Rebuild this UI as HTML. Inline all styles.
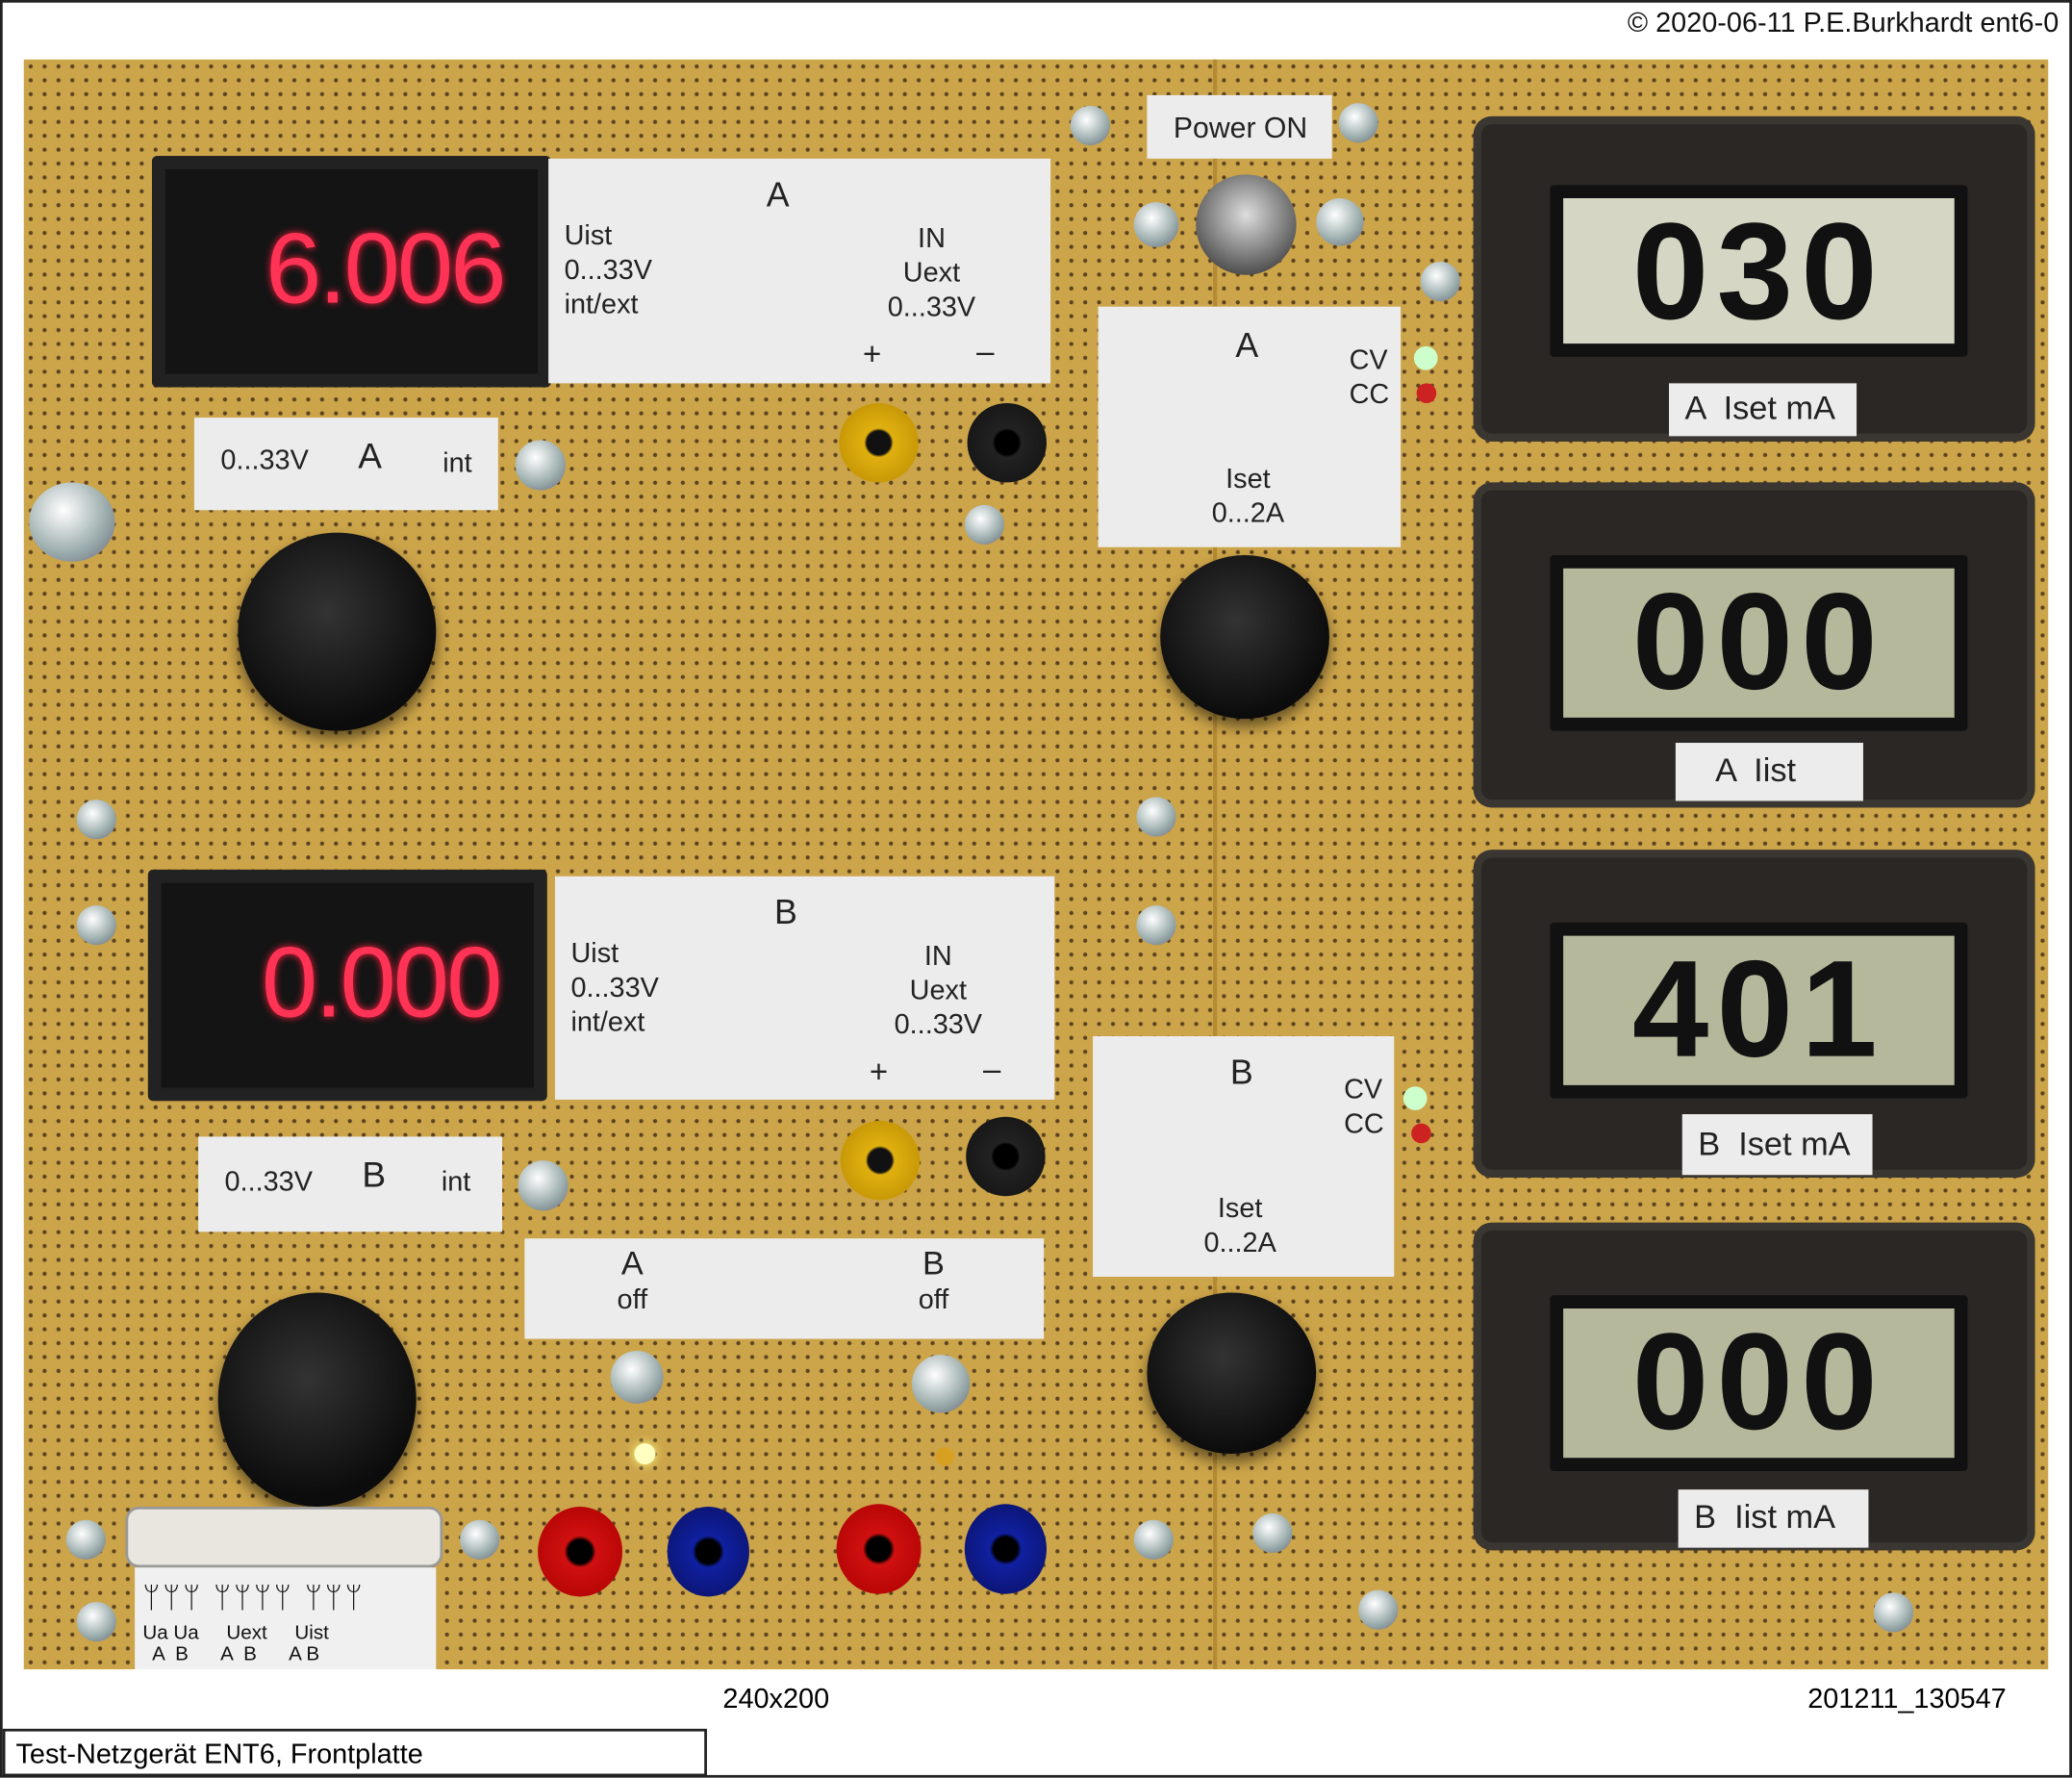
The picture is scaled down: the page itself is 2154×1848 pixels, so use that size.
<!DOCTYPE html>
<html><head><meta charset="utf-8"><style>
html,body{margin:0;padding:0;background:#fff;width:2154px;height:1847px;overflow:hidden}
#w{position:absolute;left:0;top:0;width:1568px;height:1345px;transform:scale(1.37372);transform-origin:0 0;font-family:"Liberation Sans Narrow","Liberation Sans",sans-serif}
.a{position:absolute;box-sizing:border-box}
.board{left:18px;top:45px;width:1532px;height:1218px;background-color:#cca449;
background-image:radial-gradient(circle,#5a4220 1.3px,transparent 1.8px);background-size:10.5px 10.5px}
.lbl{background:#ececec;color:#222;font-size:21px;line-height:26px}
.led{background:#141414;border-radius:4px;box-shadow:inset 0 0 0 10px #222}
.ledt{position:absolute;color:#ff3355;font-family:"Liberation Sans Narrow","Liberation Sans",sans-serif;font-size:76px;letter-spacing:-2px;text-shadow:0 0 6px #ff2040}
.lcdf{background:#2a2724;border-radius:14px;box-shadow:inset 0 0 0 6px #3a3632}
.lcd{background:#b5b89a;border:10px solid #111;border-radius:3px}
.lcdt{position:absolute;left:0;right:0;text-align:center;font-family:"Liberation Sans Narrow","Liberation Sans",sans-serif;font-weight:bold;font-size:104px;line-height:112px;color:#111;letter-spacing:6px}
.knob{border-radius:50%;background:radial-gradient(circle at 45% 40%,#333,#0c0c0c 70%);box-shadow:0 6px 10px rgba(0,0,0,.5)}
.jack{border-radius:50%}
.scr{border-radius:50%;background:radial-gradient(circle at 40% 35%,#fff,#9aa 60%,#667);width:30px;height:30px}
</style></head><body><div id="w">
<div class="a" style="left:0;top:0;width:1568px;height:1345px;border:2px solid #222"></div>
<div class="a" style="right:10px;top:6px;font-size:21px;color:#111">© 2020-06-11 P.E.Burkhardt ent6-0</div>
<div class="a board"></div>
<div class="a" style="left:918px;top:45px;width:3px;height:1218px;background:#b58a35"></div>

<div class="a led" style="left:115px;top:118px;width:302px;height:175px"><div class="ledt" style="left:86px;top:42px">6.006</div></div>
<div class="a lbl" style="left:415px;top:120px;width:380px;height:170px">
<div class="a" style="left:165px;top:14px;font-size:26px">A</div>
<div class="a" style="left:12px;top:46px">Uist<br>0...33V<br>int/ext</div>
<div class="a" style="left:252px;top:48px;text-align:center;width:76px">IN<br>Uext<br>0...33V</div>
<div class="a" style="left:238px;top:136px;font-size:24px">+</div><div class="a" style="left:324px;top:134px;font-size:24px">–</div></div>
<div class="a lbl" style="left:147px;top:316px;width:230px;height:70px"><span class="a" style="left:20px;top:20px">0...33V</span><span class="a" style="left:124px;top:16px;font-size:27px">A</span><span class="a" style="left:188px;top:22px">int</span></div>
<div class="a scr" style="left:390px;top:333px;width:38px;height:38px"></div>
<div class="a knob" style="left:180px;top:403px;width:150px;height:150px"></div>
<div class="a jack" style="left:635px;top:305px;width:60px;height:60px;background:radial-gradient(circle,#111 9px,#e0b010 11px,#b88a00)"></div>
<div class="a jack" style="left:732px;top:305px;width:60px;height:60px;background:radial-gradient(circle,#000 9px,#222 11px,#111)"></div>
<div class="a scr" style="left:730px;top:382px"></div>
<div class="a scr" style="left:22px;top:365px;width:65px;height:60px"></div>

<div class="a scr" style="left:810px;top:80px"></div><div class="a scr" style="left:1013px;top:78px"></div>
<div class="a lbl" style="left:868px;top:72px;width:140px;height:48px;font-size:22px;padding:12px 0 0 20px">Power ON</div>
<div class="a scr" style="left:858px;top:153px;width:34px;height:34px"></div><div class="a scr" style="left:996px;top:150px;width:36px;height:36px"></div>
<div class="a" style="left:905px;top:132px;width:76px;height:76px;border-radius:50%;background:radial-gradient(circle at 50% 40%,#ddd,#777 55%,#222)"></div>
<div class="a scr" style="left:1075px;top:198px"></div>

<div class="a lbl" style="left:831px;top:232px;width:229px;height:182px">
<div class="a" style="left:104px;top:16px;font-size:26px">A</div><div class="a" style="left:190px;top:28px">CV<br>CC</div>
<div class="a" style="left:86px;top:118px;text-align:center">Iset<br>0...2A</div></div>
<div class="a" style="left:1070px;top:262px;width:18px;height:18px;border-radius:50%;background:#cfc"></div>
<div class="a" style="left:1072px;top:290px;width:15px;height:15px;border-radius:50%;background:#c22"></div>
<div class="a knob" style="left:878px;top:420px;width:128px;height:124px"></div>

<div class="a lcdf" style="left:1115px;top:88px;width:425px;height:246px"><div class="a lcd" style="left:58px;top:52px;width:316px;height:130px;background:#d6d6c4"><div class="lcdt" style="top:0">030</div></div></div>
<div class="a lbl" style="left:1263px;top:290px;width:142px;height:40px;font-size:25px;padding:6px 0 0 12px">A &nbsp;Iset mA</div>
<div class="a lcdf" style="left:1115px;top:365px;width:425px;height:246px"><div class="a lcd" style="left:58px;top:55px;width:316px;height:133px"><div class="lcdt" style="top:0">000</div></div></div>
<div class="a lbl" style="left:1268px;top:562px;width:142px;height:44px;font-size:25px;padding:8px 0 0 30px">A &nbsp;Iist</div>
<div class="a lcdf" style="left:1115px;top:643px;width:425px;height:248px"><div class="a lcd" style="left:58px;top:55px;width:316px;height:133px"><div class="lcdt" style="top:0">401</div></div></div>
<div class="a lbl" style="left:1273px;top:843px;width:144px;height:46px;font-size:25px;padding:10px 0 0 12px">B &nbsp;Iset mA</div>
<div class="a lcdf" style="left:1115px;top:925px;width:425px;height:248px"><div class="a lcd" style="left:58px;top:55px;width:316px;height:133px"><div class="lcdt" style="top:0">000</div></div></div>
<div class="a lbl" style="left:1270px;top:1127px;width:144px;height:44px;font-size:25px;padding:8px 0 0 12px">B &nbsp;Iist mA</div>

<div class="a scr" style="left:58px;top:605px"></div><div class="a scr" style="left:860px;top:603px"></div>
<div class="a scr" style="left:58px;top:685px"></div><div class="a scr" style="left:860px;top:685px"></div>

<div class="a led" style="left:112px;top:658px;width:302px;height:175px"><div class="ledt" style="left:86px;top:42px">0.000</div></div>
<div class="a lbl" style="left:420px;top:663px;width:378px;height:169px">
<div class="a" style="left:166px;top:14px;font-size:26px">B</div>
<div class="a" style="left:12px;top:46px">Uist<br>0...33V<br>int/ext</div>
<div class="a" style="left:252px;top:48px;text-align:center;width:76px">IN<br>Uext<br>0...33V</div>
<div class="a" style="left:238px;top:136px;font-size:24px">+</div><div class="a" style="left:324px;top:134px;font-size:24px">–</div></div>
<div class="a lbl" style="left:150px;top:860px;width:230px;height:72px"><span class="a" style="left:20px;top:22px">0...33V</span><span class="a" style="left:124px;top:16px;font-size:27px">B</span><span class="a" style="left:184px;top:22px">int</span></div>
<div class="a scr" style="left:392px;top:878px;width:38px;height:38px"></div>
<div class="a jack" style="left:636px;top:848px;width:60px;height:60px;background:radial-gradient(circle,#111 9px,#e0b010 11px,#b88a00)"></div>
<div class="a jack" style="left:731px;top:845px;width:60px;height:60px;background:radial-gradient(circle,#000 9px,#222 11px,#111)"></div>

<div class="a lbl" style="left:827px;top:784px;width:228px;height:182px">
<div class="a" style="left:104px;top:14px;font-size:26px">B</div><div class="a" style="left:190px;top:28px">CV<br>CC</div>
<div class="a" style="left:84px;top:118px;text-align:center">Iset<br>0...2A</div></div>
<div class="a" style="left:1062px;top:822px;width:18px;height:18px;border-radius:50%;background:#cfc"></div>
<div class="a" style="left:1068px;top:850px;width:15px;height:15px;border-radius:50%;background:#c22"></div>

<div class="a lbl" style="left:397px;top:937px;width:393px;height:76px">
<div class="a" style="left:70px;top:6px;text-align:center;font-size:25px">A<br><span style="font-size:21px">off</span></div>
<div class="a" style="left:298px;top:6px;text-align:center;font-size:25px">B<br><span style="font-size:21px">off</span></div></div>
<div class="a scr" style="left:462px;top:1022px;width:40px;height:40px"></div>
<div class="a scr" style="left:690px;top:1025px;width:44px;height:44px"></div>
<div class="a" style="left:480px;top:1092px;width:16px;height:16px;border-radius:50%;background:#ffffc0;box-shadow:0 0 8px #ff8"></div>
<div class="a" style="left:708px;top:1095px;width:14px;height:14px;border-radius:50%;background:#d8a020"></div>

<div class="a knob" style="left:165px;top:978px;width:150px;height:162px"></div>
<div class="a knob" style="left:868px;top:978px;width:128px;height:122px"></div>

<div class="a jack" style="left:407px;top:1140px;width:64px;height:68px;background:radial-gradient(circle,#000 9px,#d01010 12px,#a00)"></div>
<div class="a jack" style="left:505px;top:1140px;width:62px;height:68px;background:radial-gradient(circle,#000 9px,#1020a0 12px,#0a1060)"></div>
<div class="a jack" style="left:633px;top:1138px;width:64px;height:68px;background:radial-gradient(circle,#000 9px,#d01010 12px,#a00)"></div>
<div class="a jack" style="left:730px;top:1138px;width:62px;height:68px;background:radial-gradient(circle,#000 9px,#1020a0 12px,#0a1060)"></div>

<div class="a scr" style="left:50px;top:1150px"></div><div class="a scr" style="left:348px;top:1150px"></div>
<div class="a scr" style="left:58px;top:1212px"></div><div class="a scr" style="left:858px;top:1150px"></div>
<div class="a scr" style="left:948px;top:1145px"></div><div class="a scr" style="left:1028px;top:1203px"></div>
<div class="a scr" style="left:1418px;top:1205px"></div>
<div class="a" style="left:95px;top:1140px;width:240px;height:46px;border-radius:10px;background:#e8e6df;border:2px solid #999"></div>
<div class="a" style="left:102px;top:1186px;width:228px;height:77px;background:#f0f0f0;font-size:15px;color:#111">
<div class="a" style="left:6px;top:10px;letter-spacing:2px;font-size:22px">ᛘᛘᛘ ᛘᛘᛘᛘ ᛘᛘᛘ</div>
<div class="a" style="left:6px;top:42px;line-height:16px;text-align:center">Ua Ua &nbsp;&nbsp;&nbsp; Uext &nbsp;&nbsp;&nbsp; Uist<br>A &nbsp;B &nbsp;&nbsp;&nbsp;&nbsp; A &nbsp;B &nbsp;&nbsp;&nbsp;&nbsp; A B</div></div>

<div class="a" style="left:547px;top:1274px;font-size:21px">240x200</div>
<div class="a" style="left:1368px;top:1274px;font-size:21px">201211_130547</div>
<div class="a" style="left:2px;top:1308px;width:533px;height:36px;border:2px solid #222;font-size:21px;padding:6px 0 0 8px">Test-Netzgerät ENT6, Frontplatte</div>
</div></body></html>
